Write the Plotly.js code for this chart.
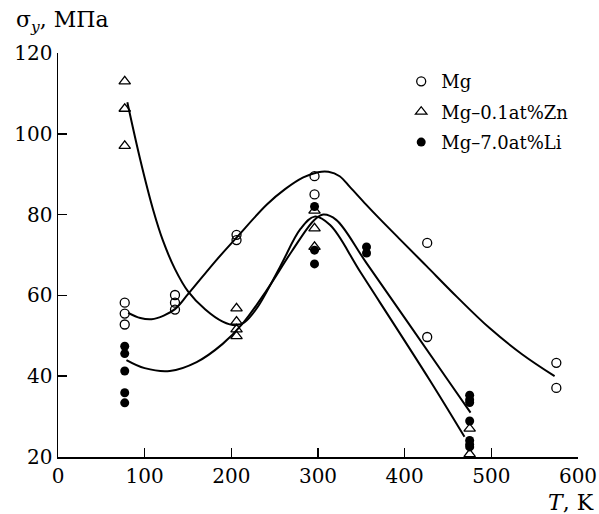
<!DOCTYPE html>
<html>
<head>
<meta charset="utf-8">
<script src="https://cdn.plot.ly/plotly-3.0.1.min.js"></script>
<style>html,body{margin:0;padding:0;background:#fff;}#chart{width:599px;height:514px;}</style>
</head>
<body>
<div id="chart"></div>
<script>
// Measured points
const mgT = [77, 77, 77, 135, 135, 135, 206, 206, 296, 296, 426, 426, 575, 575];
const mgS = [58.2, 55.5, 52.8, 60.1, 58.2, 56.5, 75.0, 73.7, 89.5, 85.0, 73.0, 49.7, 43.3, 37.1];

const znT = [77, 77, 77, 206, 206, 206, 206, 296, 296, 296, 475, 475];
const znS = [113.0, 106.2, 97.0, 56.8, 53.5, 51.6, 49.9, 81.0, 76.6, 72.0, 27.0, 20.7];

const liT = [77, 77, 77, 77, 77, 296, 296, 296, 356, 356, 475, 475, 475, 475, 475, 475, 475];
const liS = [47.4, 45.6, 41.3, 35.9, 33.4, 82.0, 71.2, 67.8, 72.0, 70.5, 35.3, 34.2, 33.5, 28.9, 24.1, 23.1, 22.5];

// Fitted curves
const mgCurveT = [81, 95, 108, 122, 135, 150, 183, 206, 241, 262, 283, 300, 312, 325, 337, 355, 371, 394, 425, 460, 498, 535, 573];
const mgCurveS = [55.7, 54.4, 54.1, 55.0, 56.6, 60.3, 68.8, 74.3, 82.5, 86.3, 89.2, 90.5, 90.6, 89.5, 86.8, 82.6, 79.0, 74.0, 67.3, 59.7, 51.9, 45.5, 40.0];

const znCurveT = [80, 95, 110, 121, 135, 150, 170, 190, 205, 215, 230, 256, 280, 296, 314, 350, 429, 469];
const znCurveS = [107.8, 93.5, 81.0, 73.6, 66.5, 61.0, 56.5, 53.5, 52.6, 53.3, 57.0, 67.0, 76.5, 79.5, 77.4, 65.4, 39.0, 25.0];

const liCurveT = [79, 100, 129, 160, 190, 213, 240, 270, 295, 306, 321, 356, 450, 476];
const liCurveS = [44.0, 42.0, 41.3, 43.5, 48.0, 53.0, 61.0, 71.0, 78.5, 80.0, 78.7, 68.0, 39.0, 31.0];

const xTicks = [0, 100, 200, 300, 400, 500, 600];
const yTicks = [20, 40, 60, 80, 100, 120];

const seriesNames = ['Mg', 'Mg\u20130.1at%Zn', 'Mg\u20137.0at%Li'];

const FONT = "'DejaVu Serif', serif";
const lineStyle = {color: '#000', width: 2, shape: 'spline', smoothing: 1};

const traces = [
  {x: mgCurveT, y: mgCurveS, mode: 'lines', line: lineStyle, showlegend: false, hoverinfo: 'skip'},
  {x: znCurveT, y: znCurveS, mode: 'lines', line: lineStyle, showlegend: false, hoverinfo: 'skip'},
  {x: liCurveT, y: liCurveS, mode: 'lines', line: lineStyle, showlegend: false, hoverinfo: 'skip'},
  {x: mgT, y: mgS, mode: 'markers', name: seriesNames[0], legendgroup: 'g1',
   marker: {symbol: 'circle-open', size: 9, color: '#000', line: {width: 1.3, color: '#000'}}},
  {x: znT, y: znS, mode: 'markers', name: seriesNames[1], legendgroup: 'g2',
   marker: {symbol: 'triangle-up-open', size: 10, color: '#000', line: {width: 1.3, color: '#000'}}},
  {x: liT, y: liS, mode: 'markers', name: seriesNames[2], legendgroup: 'g3',
   marker: {symbol: 'circle', size: 9, color: '#000', line: {width: 0}}}
];

const layout = {
  width: 599, height: 514,
  margin: {l: 58, r: 21, t: 53, b: 57},
  paper_bgcolor: '#fff', plot_bgcolor: '#fff',
  font: {family: FONT, color: '#000', size: 20},
  showlegend: true,
  legend: {x: 0.66, y: 0.975, xanchor: 'left', yanchor: 'top',
           font: {family: FONT, size: 18, color: '#000'}, bgcolor: 'rgba(0,0,0,0)',
           itemwidth: 30, tracegroupgap: 4},
  xaxis: {range: [0, 600], tickvals: xTicks, ticktext: xTicks.map(String),
          ticks: 'inside', ticklen: 9, tickwidth: 1.5, tickcolor: '#000',
          showline: true, linewidth: 1.5, linecolor: '#000',
          showgrid: false, zeroline: false, fixedrange: true,
          tickfont: {family: FONT, size: 20, color: '#000'}},
  yaxis: {range: [20, 120], tickvals: yTicks, ticktext: yTicks.map(String),
          ticks: 'inside', ticklen: 9, tickwidth: 1.5, tickcolor: '#000',
          showline: true, linewidth: 1.5, linecolor: '#000',
          showgrid: false, zeroline: false, fixedrange: true,
          tickfont: {family: FONT, size: 20, color: '#000'}},
  annotations: [
    {text: '\u03c3<sub><i>y</i></sub>, \u041c\u041f\u0430', xref: 'paper', yref: 'paper',
     x: -0.085, y: 1.078, xanchor: 'left', yanchor: 'middle', showarrow: false,
     font: {family: FONT, size: 22, color: '#000'}},
    {text: '<i>T</i>, K', xref: 'paper', yref: 'paper',
     x: 1.035, y: -0.112, xanchor: 'right', yanchor: 'middle', showarrow: false,
     font: {family: FONT, size: 22, color: '#000'}}
  ]
};

Plotly.newPlot('chart', traces, layout, {displayModeBar: false, staticPlot: true});
</script>
</body>
</html>
